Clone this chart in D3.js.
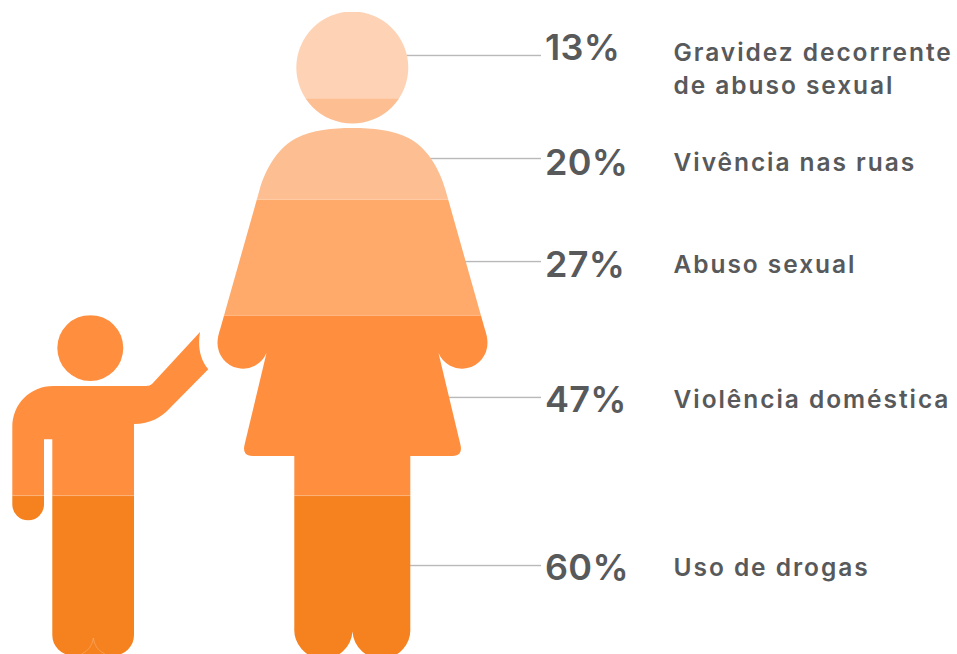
<!DOCTYPE html>
<html lang="pt">
<head>
<meta charset="utf-8">
<script src="https://cdn.jsdelivr.net/npm/d3@7"></script>
<style>
html,body{margin:0;padding:0;background:#fff;overflow:hidden}
svg{display:block}
text{font-family:Inter,sans-serif;fill:#58595b}
</style>
</head>
<body>
<div id="chart"></div>
<script>
// ---- data ----
const categories = ["Gravidez decorrente|de abuso sexual","Vivência nas ruas","Abuso sexual","Violência doméstica","Uso de drogas"];
const percentages = [13,20,27,47,60];
// lower edge of each fill band, as % of the woman's height (last one runs past the feet)
const bandEdges = [13.4,29.1,47.1,75.1,100];
// height of each leader line, as % of the woman's height
const leaderLevels = [6.75,22.75,38.75,59.85,85.95];

// ---- style and layout ----
const bandColors = ["#fed3b5","#fdbe92","#ffa96a","#ff8f3f","#f6821f"];
const W=957,H=654;
const y = d3.scaleLinear().domain([0,100]).range([12,656]);
const numberBaselineOffset=[4.5,16.5,15.5,14.5,14.5];
const labelBaselineOffset=[6,12.5,11.5,11,10.5];

const womanHead={cx:352.3,cy:67.6,r:56};
const childHead={cx:90.3,cy:348,r:33};
const womanBody="M352.5 128C372.5 128 392.5 130 408.5 138C425.5 146 439.5 168 445.5 190L484.5 328C486.5 334 487.5 338 487.5 343A25.5 25.5 0 0 1 438.5 353L460.5 445Q463 456 452.5 456L410.3 456L410.3 628A28.8 28.8 0 0 1 352.5 631.5A28.8 28.8 0 0 1 294.3 628L294.3 456L252.5 456Q242 456 244.5 445L266.5 353A25.5 25.5 0 0 1 217.5 343C217.5 338 218.5 334 220.5 328L259.5 190C265.5 168 279.5 146 296.5 138C312.5 130 332.5 128 352.5 128Z";
const childBody="M53.3 386L146 386Q150 386 152 384L200 332C198 345 199 358 208.3 369.3L170 408C162 417 150 424 134 424L134 635A20.4 20.4 0 0 1 113.6 655.4L72.7 655.4A20.4 20.4 0 0 1 52.3 635L52.3 439.3L44 439.3L44 504.5A15.8 15.8 0 0 1 12.3 504.5L12.3 427C12.3 404 30 386 53.3 386Z";
const childNotch="M93.3 638A20.4 20.4 0 0 1 81.5 654M93.3 638A20.4 20.4 0 0 0 105 654";

const svg=d3.select("#chart").append("svg").attr("width",W).attr("height",H);

// leader lines sit behind the figure
svg.append("g").selectAll("rect").data(leaderLevels).join("rect")
  .attr("x",352).attr("width",189).attr("y",d=>y(d)-0.7).attr("height",1.4).attr("fill","#b9b9b9");

// silhouettes as a clip path
const clip=svg.append("defs").append("clipPath").attr("id","people");
clip.append("circle").attr("cx",womanHead.cx).attr("cy",womanHead.cy).attr("r",womanHead.r);
clip.append("circle").attr("cx",childHead.cx).attr("cy",childHead.cy).attr("r",childHead.r);
clip.append("path").attr("d",womanBody);
clip.append("path").attr("d",childBody);

const tops=[0].concat(bandEdges.slice(0,-1));
svg.append("g").attr("clip-path","url(#people)").selectAll("rect").data(bandEdges).join("rect")
  .attr("x",0).attr("width",W)
  .attr("y",(d,i)=>y(tops[i]))
  .attr("height",(d,i)=>y(d)-y(tops[i]))
  .attr("fill",(d,i)=>bandColors[i]);

// faint seams between bands
svg.append("g").attr("clip-path","url(#people)").selectAll("rect").data(bandEdges.slice(1,-1)).join("rect")
  .attr("x",0).attr("width",W).attr("y",d=>y(d)-0.5).attr("height",1).attr("fill","#fff").attr("opacity",.18);

svg.append("path").attr("d",childNotch).attr("fill","none").attr("stroke","#fff").attr("stroke-opacity",.35).attr("stroke-width",.6);

// numbers
svg.append("g").selectAll("text").data(percentages).join("text")
  .attr("x",545).attr("y",(d,i)=>y(leaderLevels[i])+numberBaselineOffset[i])
  .attr("font-size",36).attr("font-weight",600).attr("letter-spacing",0.3)
  .text(d=>d+"%");

// labels
svg.append("g").selectAll("text").data(categories).join("text")
  .attr("x",673.5).attr("y",(d,i)=>y(leaderLevels[i])+labelBaselineOffset[i])
  .attr("font-size",24.5).attr("font-weight",600).attr("letter-spacing",1.95)
  .each(function(d){
    d3.select(this).selectAll("tspan").data(d.split("|")).join("tspan")
      .attr("x",673.5).attr("dy",(t,j)=>j?32.5:0).text(t=>t);
  });
</script>
</body>
</html>
